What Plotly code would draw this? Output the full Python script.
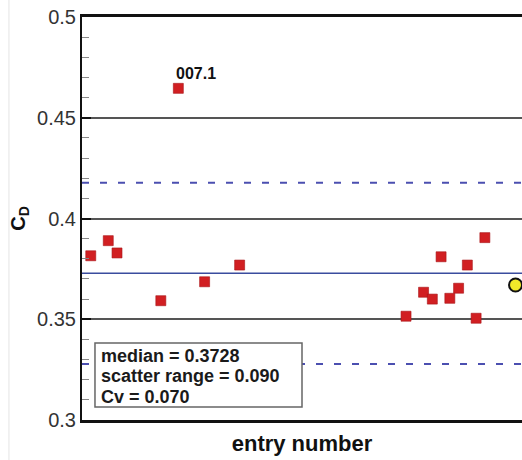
import plotly.graph_objects as go

# Drag-coefficient entries (entry number, C_D)
entry_numbers = [1, 3, 4, 9, 11, 14, 18, 37, 39, 40, 41, 42, 43, 44, 45, 46]
cd_values = [0.3815, 0.3890, 0.3829, 0.3592, 0.4646, 0.3686, 0.3769, 0.3515,
             0.3634, 0.3600, 0.3810, 0.3604, 0.3654, 0.3769, 0.3505, 0.3905]

# Reference value shown as a yellow circle at the right end
ref_entry = [49.5]
ref_cd = [0.3670]

# Outlier label
outlier_label = "007.1"
outlier_entry = 11
outlier_cd = 0.4646

# Summary statistics
median = 0.3728
scatter_range = 0.090
cv = 0.070

y_ticks = [0.3, 0.35, 0.4, 0.45, 0.5]
y_ticktext = ["0.3", "0.35", "0.4", "0.45", "0.5"]
x_range = [0, 50.24]

FONT = "Liberation Sans, Arial, Helvetica, sans-serif"

fig = go.Figure()

# Scatter bounds (median +/- half the scatter range), dashed
for yv in (median + scatter_range / 2, median - scatter_range / 2):
    fig.add_trace(go.Scatter(
        x=x_range, y=[yv, yv], mode="lines",
        line=dict(color="#4b4fb0", width=2, dash="7px,11px"),
        hoverinfo="skip", showlegend=False))

# Median line
fig.add_trace(go.Scatter(
    x=x_range, y=[median, median], mode="lines",
    line=dict(color="#3a4c9e", width=1.6),
    hoverinfo="skip", showlegend=False))

# Entries
fig.add_trace(go.Scatter(
    x=entry_numbers, y=cd_values, mode="markers",
    marker=dict(symbol="square", size=10, color="#d11f22",
                line=dict(color="#a81418", width=0.6)),
    showlegend=False, cliponaxis=False))

# Reference point
fig.add_trace(go.Scatter(
    x=ref_entry, y=ref_cd, mode="markers",
    marker=dict(symbol="circle", size=13, color="#f2e82a",
                line=dict(color="#111111", width=2)),
    showlegend=False, cliponaxis=False))

# Label for the outlier entry
fig.add_annotation(
    x=outlier_entry, y=outlier_cd, text="<b>" + outlier_label + "</b>",
    xanchor="left", yanchor="bottom", xshift=-4, yshift=4,
    showarrow=False, font=dict(family=FONT, size=16, color="#111111"))

# Statistics box
fig.add_shape(type="rect", xref="paper", yref="paper",
              x0=0.0295, x1=0.5, y0=0.0323, y1=0.191,
              fillcolor="white", line=dict(color="#666666", width=1.5),
              layer="above")

stat_lines = [
    f"median = {median:.4f}",
    f"scatter range = {scatter_range:.3f}",
    f"Cv = {cv:.3f}",
]
line_y = [0.1600, 0.1092, 0.0583]
for txt, yp in zip(stat_lines, line_y):
    fig.add_annotation(
        xref="paper", yref="paper", x=0.041, y=yp,
        xanchor="left", yanchor="middle", text="<b>" + txt + "</b>",
        borderpad=0,
        showarrow=False, font=dict(family=FONT, size=18, color="#1a1a1a"))

# Faint frame line on the far left
fig.add_shape(type="line", xref="paper", yref="paper",
              x0=-0.166, x1=-0.166, y0=-0.1, y1=1.05,
              line=dict(color="#e4e4e4", width=1), layer="below")

fig.update_layout(
    width=522, height=460,
    margin=dict(l=82, r=0, t=17, b=40),
    paper_bgcolor="white", plot_bgcolor="white",
    font=dict(family=FONT, color="#222222"),
    showlegend=False,
    xaxis=dict(
        range=x_range, showgrid=False, zeroline=False,
        showticklabels=False, ticks="",
        showline=True, linecolor="#111111", linewidth=3, mirror=True,
        title=dict(text="<b>entry number</b>",
                   font=dict(family=FONT, size=22, color="#111111"),
                   standoff=14),
    ),
    yaxis=dict(
        range=[0.3, 0.5], tickvals=y_ticks, ticktext=y_ticktext,
        showgrid=True, gridcolor="#555555", gridwidth=1.5,
        zeroline=False,
        showline=True, linecolor="#111111", linewidth=2,
        ticks="inside", ticklen=9, tickwidth=2, tickcolor="#111111",
        tickfont=dict(family=FONT, size=20, color="#333333"),
        minor=dict(dtick=0.01, ticks="inside", ticklen=7,
                   tickcolor="#888888", tickwidth=1, showgrid=False),
        title=dict(text="<b>C<sub>D</sub></b>",
                   font=dict(family=FONT, size=20, color="#111111"),
                   standoff=6),
    ),
)

fig.write_html("out.html")
